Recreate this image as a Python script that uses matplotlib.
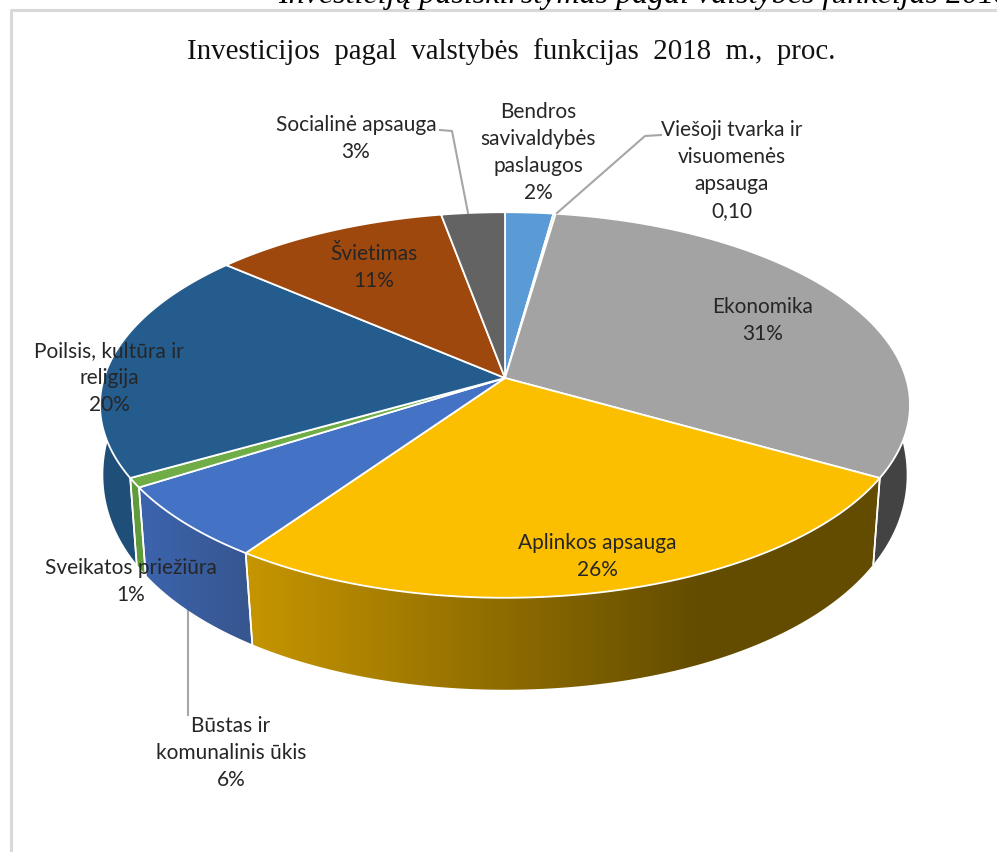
import numpy as np
import matplotlib
matplotlib.use('Agg')
import matplotlib.pyplot as plt
from matplotlib.colors import to_rgb
from matplotlib.patches import Polygon

plt.rcParams['font.family'] = ['Lato', 'DejaVu Sans']

# share of each slice, clockwise from 12 o'clock
names = ['Bendros\nsavivaldybės\npaslaugos', 'Viešoji tvarka ir\nvisuomenės\napsauga', 'Ekonomika',
         'Aplinkos apsauga', 'Būstas ir\nkomunalinis ūkis', 'Sveikatos priežiūra',
         'Poilsis, kultūra ir\nreligija', 'Švietimas', 'Socialinė apsauga']
shares = [2.2, 0.1, 30.9, 26.5, 6.3, 0.8, 19.5, 10.8, 2.9]
value_labels = ['2%', '0,10', '31%', '26%', '6%', '1%', '20%', '11%', '3%']
top_colors = ['#5B9BD5', '#ED7D31', '#A3A3A3', '#FCBF00', '#4472C4', '#70AD47', '#255C8E', '#9E480E', '#636363']
side_colors = ['#41719C', '#AE5A21', '#434343', ('#C69500', '#634C00'), ('#3C64AE', '#37568F'), '#5F9A3B',
               '#1F4E79', '#7A3809', '#4A4A4A']

# centre of the first text line of each label
label_pos = [(538, 112), (732, 130), (763, 307), (597, 543), (231, 726), (131, 568), (109, 351), (374, 254), (356, 125)]

title = 'Investicijos pagal valstybės funkcijas 2018 m., proc.'
page_head = 'Investicijų pasiskirstymas pagal valstybės funkcijas 2018'


def project(theta, lower=False):
    # perspective view of the unit circle, theta clockwise from the top
    x, y = np.sin(theta), -np.cos(theta)
    d = 1 - 0.14 * y
    px, py = 401 * x / d, 189 * y / d
    if lower:
        px, py = px * (0.995 - 0.025 * y), py + 92 - 22 * (1 - y) ** 2
    return 505 + px, 378 + py


fig = plt.figure(figsize=(9.97, 8.52), dpi=100)
ax = fig.add_axes([0, 0, 1, 1])
ax.set_xlim(0, 997)
ax.set_ylim(852, 0)
ax.axis('off')

# chart frame
ax.plot([11, 11, 997], [852, 10, 10], color='#D9D9D9', lw=2.2, zorder=1)

ax.text(278, 3, page_head, family='Liberation Serif', style='italic', fontsize=23, color='black',
        ha='left', va='baseline', zorder=2)
ax.text(511, 52, title.replace(' ', '  '), family='Liberation Serif', fontsize=20.8, color='#111111',
        ha='center', va='center', zorder=6)

edges = np.cumsum([0] + shares) / sum(shares) * 2 * np.pi
vis_from, vis_to = np.radians(70), np.radians(290)

# sides of the cake, only the part facing the viewer
for i in range(len(shares)):
    a, b = max(edges[i], vis_from), min(edges[i + 1], vis_to)
    if b <= a:
        continue
    t = np.linspace(a, b, 120)
    xt, yt = project(t)
    xb, yb = project(t, lower=True)
    pts = np.r_[np.c_[xt, yt], np.c_[xb, yb][::-1]]
    col = side_colors[i]
    if isinstance(col, tuple):
        poly = Polygon(pts, closed=True, facecolor='none', edgecolor='none', zorder=3)
        ax.add_patch(poly)
        c1, c2 = to_rgb(col[0]), to_rgb(col[1])
        x0, x1 = pts[:, 0].min(), pts[:, 0].max()
        # the gold side runs darker from left to right and goes flat near x=680
        stop = 0.97 if x1 - x0 < 200 else 0.72
        ramp = np.clip(np.linspace(0, 1, 256) / stop, 0, 1)
        grad = np.outer(1 - ramp, c1) + np.outer(ramp, c2)
        im = ax.imshow(grad.reshape(1, 256, 3), extent=[x0, x1, pts[:, 1].max(), pts[:, 1].min()],
                       aspect='auto', zorder=3)
        im.set_clip_path(poly)
        ax.set_xlim(0, 997)
        ax.set_ylim(852, 0)
    else:
        ax.add_patch(Polygon(pts, closed=True, facecolor=col, edgecolor='none', zorder=3))
    # white seam at the slice edges
    for e in (edges[i], edges[i + 1]):
        if vis_from < e < vis_to:
            xa, ya = project(e)
            xc, yc = project(e, lower=True)
            ax.plot([xa, xc], [ya, yc], color='white', lw=1.2, zorder=4)

# top of the cake
for i in range(len(shares)):
    t = np.linspace(edges[i], edges[i + 1], 120)
    xt, yt = project(t)
    pts = np.r_[[[505, 378]], np.c_[xt, yt]]
    ax.add_patch(Polygon(pts, closed=True, facecolor=top_colors[i], edgecolor='white', lw=1.3, zorder=5,
                         joinstyle='round'))

# leader lines
ax.plot([440, 452, 468], [130, 131, 213], color='#A6A6A6', lw=1.5, zorder=6)
ax.plot([661, 645, 557], [135, 136, 213], color='#A6A6A6', lw=1.5, zorder=6)
ax.plot([188, 188], [610, 715], color='#A6A6A6', lw=1.5, zorder=2)

# data labels
for name, val, pos in zip(names, value_labels, label_pos):
    lines = name.split('\n') + [val]
    for j, line in enumerate(lines):
        ax.text(pos[0], pos[1] + j * 27, line, fontsize=15, color='#262626', ha='center', va='center', zorder=7)

fig.savefig('out.png', dpi=100)
